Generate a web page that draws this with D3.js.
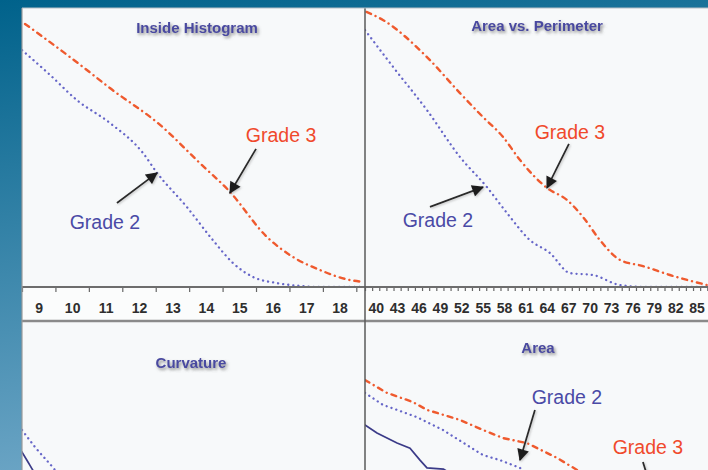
<!DOCTYPE html>
<html><head><meta charset="utf-8">
<script src="https://cdn.jsdelivr.net/npm/d3@7"></script>
<style>
html,body{margin:0;padding:0;overflow:hidden;}
svg{display:block;}
</style></head>
<body>
<script>
// ---------- data ----------
const histTickLabels = [9,10,11,12,13,14,15,16,17,18];
const perimTickLabels = [40,43,46,49,52,55,58,61,64,67,70,73,76,79,82,85];

// Inside Histogram (x: histogram value, y: fraction remaining)
const histGrade3 = [[8.59,0.943],[9.13,0.896],[10.32,0.789],[11.13,0.713],[12.63,0.581],[13.82,0.444],[14.72,0.341],[15.83,0.179],[16.60,0.108],[17.41,0.061],[18.31,0.025],[18.73,0.018]];
const histGrade2 = [[8.5,0.849],[9.34,0.760],[10.14,0.670],[11.13,0.588],[12.12,0.480],[12.54,0.409],[13.43,0.287],[14.21,0.168],[14.81,0.086],[15.41,0.036],[16.13,0.014],[16.81,0.004],[17.5,0.0],[18.73,0.0]];

// Area vs. Perimeter
const perimGrade3 = [[38.7,0.986],[41.02,0.957],[47.19,0.824],[51.82,0.695],[55.05,0.609],[57.85,0.538],[60.24,0.455],[64.02,0.355],[66.82,0.312],[69.07,0.251],[71.45,0.168],[74.25,0.097],[77.48,0.075],[81.26,0.043],[86.45,0.007]];
const perimGrade2 = [[38.5,0.921],[42.43,0.789],[47.19,0.634],[51.82,0.466],[55.60,0.358],[58.41,0.265],[61.63,0.168],[64.43,0.122],[67.24,0.050],[70.46,0.043],[74.25,0.007],[78.0,0.0],[86.6,0.0]];

// Curvature
const curvGrade2 = [[0,0.613],[3.8,0.552],[9.6,0.470],[14,0.398]];
const curvSolid = [[0,0.534],[1.75,0.498],[3.5,0.462],[6.7,0.398]];

// Area
const areaGrade3 = [[38.5,0.792],[41.58,0.746],[45.23,0.713],[47.19,0.685],[51.82,0.649],[55.05,0.613],[57.85,0.584],[61.21,0.566],[65.42,0.513],[68.22,0.470],[71.45,0.398]];
const areaGrade2 = [[38.5,0.746],[41.02,0.703],[45.79,0.659],[49.44,0.613],[53.22,0.552],[55.05,0.523],[57.43,0.505],[60.24,0.477],[63.04,0.416]];
const areaSolid = [[38.5,0.631],[40.18,0.602],[42.99,0.566],[44.81,0.548],[46.21,0.505],[47.19,0.477],[49.5,0.473],[51.5,0.440]];

// annotations
const histNotes = [
  {text:"Grade 3", cls:"g3", lx:16.25, ly:0.545, ax:[15.5,0.495], at:[14.72,0.337]},
  {text:"Grade 2", cls:"g2", lx:10.98, ly:0.233, ax:[11.34,0.301], at:[12.54,0.409]}
];
const perimNotes = [
  {text:"Grade 3", cls:"g3", lx:67.24, ly:0.556, ax:[67.10,0.513], at:[64.02,0.355]},
  {text:"Grade 2", cls:"g2", lx:48.73, ly:0.240, ax:[47.61,0.287], at:[55.05,0.358]}
];
const areaNotes = [
  {text:"Grade 2", cls:"g2", lx:66.82, ly:0.731, ax:[62.33,0.685], at:[60.24,0.505]},
  {text:"Grade 3", cls:"g3", lx:78.17, ly:0.552, ax:[77.48,0.498], at:[78.9,0.380]}
];

// ---------- drawing ----------
(function(){
const W = 708, H = 470;
const svg = d3.select("body").append("svg").attr("width", W).attr("height", H);
const defs = svg.append("defs");

const bg = defs.append("linearGradient").attr("id","bg").attr("x1",0).attr("y1",0).attr("x2",0.25).attr("y2",1);
bg.append("stop").attr("offset","0%").attr("stop-color","#00628b");
bg.append("stop").attr("offset","100%").attr("stop-color","#6fa7c7");
svg.append("rect").attr("width",W).attr("height",H).attr("fill","url(#bg)");

const sh = defs.append("filter").attr("id","tshadow").attr("x","-20%").attr("y","-40%").attr("width","140%").attr("height","200%");
sh.append("feDropShadow").attr("dx",1.5).attr("dy",2).attr("stdDeviation",1.4).attr("flood-color","#666").attr("flood-opacity",0.75);
const ash = defs.append("filter").attr("id","ashadow").attr("x","-30%").attr("y","-30%").attr("width","160%").attr("height","160%");
ash.append("feDropShadow").attr("dx",1).attr("dy",1).attr("stdDeviation",0.8).attr("flood-color","#999").attr("flood-opacity",0.6);

defs.append("marker").attr("id","ahead").attr("viewBox","0 0 10 10").attr("refX",9).attr("refY",5)
  .attr("markerWidth",13).attr("markerHeight",12).attr("markerUnits","userSpaceOnUse").attr("orient","auto")
  .append("path").attr("d","M0,0 L10,5 L0,10 Z").attr("fill","#1a1a1a");

const pLeft = 22, pMid = 365, pRight = 708, pTop = 8, axisY = 287, stripB = 321, botTop = 322;

svg.append("rect").attr("x",pLeft).attr("y",pTop).attr("width",pRight-pLeft).attr("height",H-pTop).attr("fill","#f7f9fa");

const xL = d3.scaleLinear().domain([8.5, 18.73]).range([pLeft, pMid-1]);
const xR = d3.scaleLinear().domain([38.5, 86.6]).range([pMid, pRight]);
const xC = d3.scaleLinear().domain([0, 100]).range([pLeft, pMid-1]);
const yTop = d3.scaleLinear().domain([0, 1]).range([axisY, pTop]);
const yBot = d3.scaleLinear().domain([0, 1]).range([botTop + (axisY - pTop), botTop]);

function clip(id, x, y, w, h){
  defs.append("clipPath").attr("id",id).append("rect").attr("x",x).attr("y",y).attr("width",w).attr("height",h);
}
clip("cTL", pLeft, pTop, pMid-pLeft, axisY-pTop);
clip("cTR", pMid, pTop, pRight-pMid, axisY-pTop);
clip("cBL", pLeft, botTop, pMid-pLeft, H-botTop);
clip("cBR", pMid, botTop, pRight-pMid, H-botTop);

const styles = {
  g3: {stroke:"#ef5a2e", width:2.4, dash:"5,5,0.1,5"},
  g2: {stroke:"#6666c8", width:2.3, dash:"0.1,5"},
  solid: {stroke:"#3b3b88", width:1.7, dash:null}
};

function drawLine(clipId, data, x, y, st, curve){
  const line = d3.line().x(d=>x(d[0])).y(d=>y(d[1])).curve(curve || d3.curveMonotoneX);
  svg.append("path").attr("clip-path",`url(#${clipId})`).datum(data)
    .attr("d",line).attr("fill","none").attr("stroke",st.stroke).attr("stroke-width",st.width)
    .attr("stroke-dasharray",st.dash).attr("stroke-linecap","round");
}

function title(text, cx, cy){
  svg.append("text").attr("x",cx).attr("y",cy).attr("text-anchor","middle").attr("dominant-baseline","central")
    .attr("font-family","Liberation Sans, Arial, sans-serif").attr("font-weight","bold").attr("font-size",15)
    .attr("fill","#4a4aa0").attr("filter","url(#tshadow)").text(text);
}

function notes(clipId, list, x, y){
  const g = svg.append("g").attr("clip-path",`url(#${clipId})`);
  list.forEach(n=>{
    g.append("line").attr("x1",x(n.ax[0])).attr("y1",y(n.ax[1])).attr("x2",x(n.at[0])).attr("y2",y(n.at[1]))
      .attr("stroke","#2a2a2a").attr("stroke-width",1.8).attr("marker-end","url(#ahead)").attr("filter","url(#ashadow)");
    g.append("text").attr("x",x(n.lx)).attr("y",y(n.ly)).attr("text-anchor","middle").attr("dominant-baseline","central")
      .attr("font-family","Liberation Sans, Arial, sans-serif").attr("font-size",19.5)
      .attr("fill", n.cls==="g3" ? "#f04a2c" : "#4a4aa6").text(n.text);
  });
}

drawLine("cTL", histGrade3, xL, yTop, styles.g3);
drawLine("cTL", histGrade2, xL, yTop, styles.g2);
title("Inside Histogram", 197, 27);
notes("cTL", histNotes, xL, yTop);

drawLine("cTR", perimGrade3, xR, yTop, styles.g3);
drawLine("cTR", perimGrade2, xR, yTop, styles.g2);
title("Area vs. Perimeter", 537, 25);
notes("cTR", perimNotes, xR, yTop);

drawLine("cBL", curvGrade2, xC, yBot, styles.g2);
drawLine("cBL", curvSolid, xC, yBot, styles.solid);
title("Curvature", 191, 362);

drawLine("cBR", areaGrade3, xR, yBot, styles.g3, d3.curveLinear);
drawLine("cBR", areaGrade2, xR, yBot, styles.g2, d3.curveLinear);
drawLine("cBR", areaSolid, xR, yBot, styles.solid, d3.curveLinear);
title("Area", 538, 347);
notes("cBR", areaNotes, xR, yBot);

svg.append("rect").attr("x",pLeft).attr("y",axisY).attr("width",pRight-pLeft).attr("height",stripB-axisY).attr("fill","#fbfcfc");

const histBounds = d3.range(8.5, 18.6, 1);
const gL1 = svg.append("g").attr("transform",`translate(0,${axisY})`)
  .call(d3.axisBottom(xL).tickValues(histBounds).tickSize(5).tickFormat(""));
const gL2 = svg.append("g").attr("transform",`translate(0,${axisY})`)
  .call(d3.axisBottom(xL).tickValues(histTickLabels).tickSize(0).tickPadding(16).tickFormat(d3.format("d")));

const perimBounds = d3.range(38.5, 86.6, 1);
const gR1 = svg.append("g").attr("transform",`translate(0,${axisY})`)
  .call(d3.axisBottom(xR).tickValues(perimBounds).tickSize(4).tickFormat(""));
const gR2 = svg.append("g").attr("transform",`translate(0,${axisY})`)
  .call(d3.axisBottom(xR).tickValues(perimTickLabels).tickSize(0).tickPadding(16).tickFormat(d3.format("d")));

[gL1,gL2,gR1,gR2].forEach(g=>{
  g.select(".domain").remove();
  g.selectAll(".tick line").attr("stroke","#666").attr("stroke-width",1.2);
  g.selectAll(".tick text").attr("font-family","Liberation Sans, Arial, sans-serif").attr("font-weight","bold")
    .attr("font-size",14).attr("fill","#2e2e2e");
});

svg.append("line").attr("x1",pLeft).attr("x2",pRight).attr("y1",axisY).attr("y2",axisY).attr("stroke","#6d6d6d").attr("stroke-width",2);
svg.append("line").attr("x1",pLeft).attr("x2",pRight).attr("y1",stripB).attr("y2",stripB).attr("stroke","#8a8a8a").attr("stroke-width",2.5);
svg.append("line").attr("x1",pMid).attr("x2",pMid).attr("y1",pTop).attr("y2",H).attr("stroke","#5a5a5a").attr("stroke-width",1.5);
svg.append("line").attr("x1",pLeft).attr("x2",pLeft).attr("y1",pTop).attr("y2",H).attr("stroke","#9a9a9a").attr("stroke-width",1.2);
svg.append("line").attr("x1",pLeft).attr("x2",pRight).attr("y1",pTop).attr("y2",pTop).attr("stroke","#b8c0c6").attr("stroke-width",1);
})();
</script>
</body></html>
